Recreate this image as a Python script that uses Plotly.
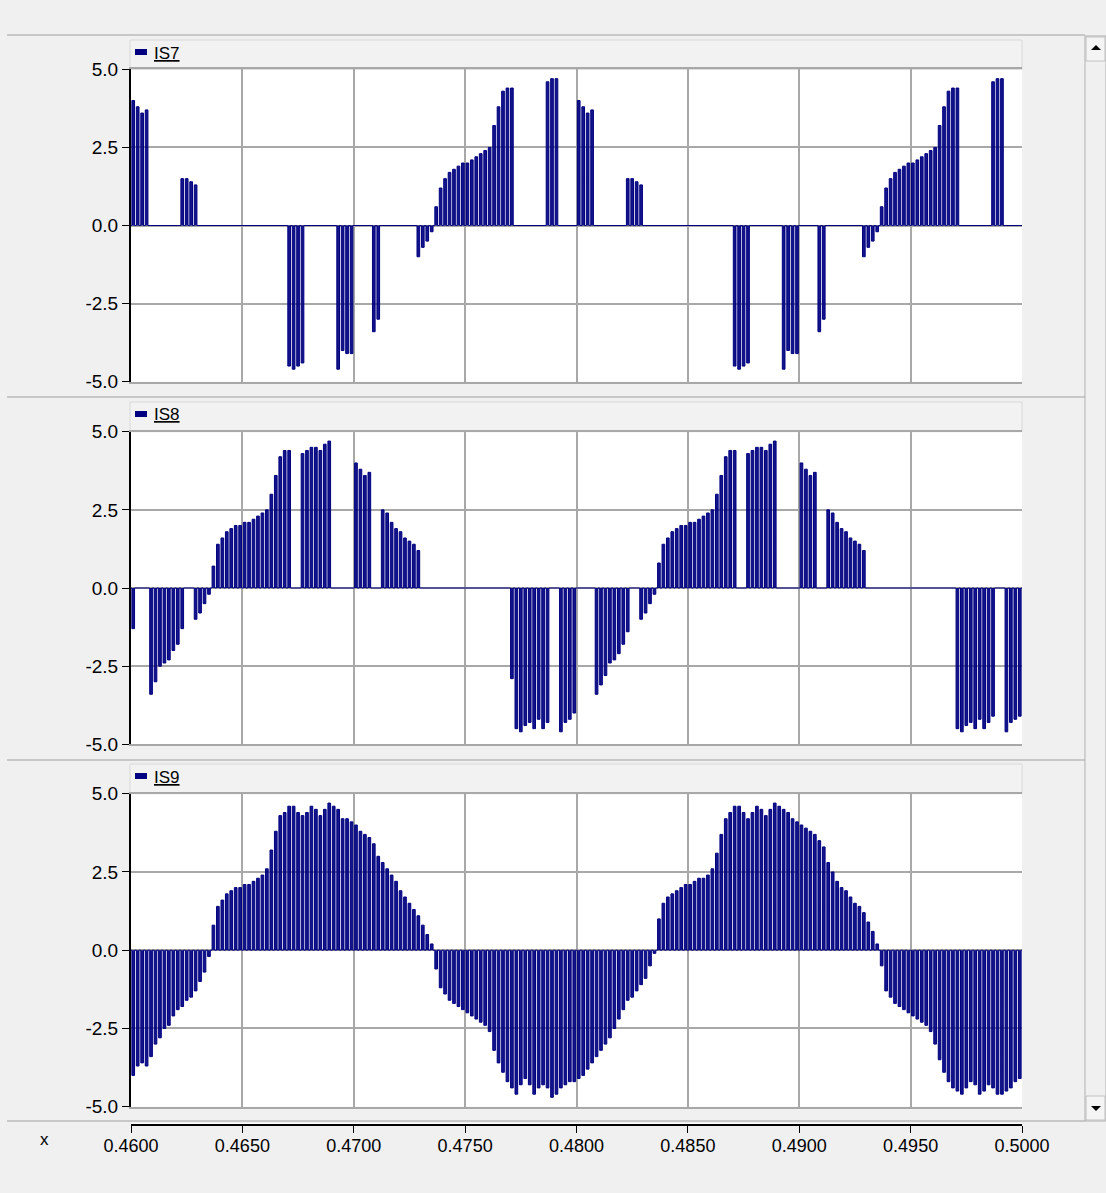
import plotly.graph_objects as go

# ---------------- data ----------------
T_START = 0.4600
T_END = 0.5000
PULSE_PERIOD = 0.0002          # one switching slot per value below
PULSE_WIDTH = 0.00012

x_tick_vals = [0.4600, 0.4650, 0.4700, 0.4750, 0.4800, 0.4850, 0.4900, 0.4950, 0.5000]
x_tick_text = ["0.4600", "0.4650", "0.4700", "0.4750", "0.4800", "0.4850", "0.4900", "0.4950", "0.5000"]
y_tick_vals = [-5.0, -2.5, 0.0, 2.5, 5.0]
y_tick_text = ["-5.0", "-2.5", "0.0", "2.5", "5.0"]

series_names = ["IS7", "IS8", "IS9"]

IS7 = [
    4.0, 3.8, 3.6, 3.7, 0, 0, 0, 0, 0, 0,
    0, 1.5, 1.5, 1.4, 1.3, 0, 0, 0, 0, 0,
    0, 0, 0, 0, 0, 0, 0, 0, 0, 0,
    0, 0, 0, 0, 0, -4.5, -4.6, -4.5, -4.4, 0,
    0, 0, 0, 0, 0, 0, -4.6, -4.0, -4.1, -4.1,
    0, 0, 0, 0, -3.4, -3.0, 0, 0, 0, 0,
    0, 0, 0, 0, -1.0, -0.7, -0.5, -0.2, 0.6, 1.2,
    1.5, 1.7, 1.8, 1.9, 2.0, 2.0, 2.1, 2.2, 2.3, 2.4,
    2.5, 3.2, 3.8, 4.3, 4.4, 4.4, 0, 0, 0, 0,
    0, 0, 0, 4.6, 4.7, 4.7, 0, 0, 0, 0,
    4.0, 3.8, 3.6, 3.7, 0, 0, 0, 0, 0, 0,
    0, 1.5, 1.5, 1.4, 1.3, 0, 0, 0, 0, 0,
    0, 0, 0, 0, 0, 0, 0, 0, 0, 0,
    0, 0, 0, 0, 0, -4.5, -4.6, -4.5, -4.4, 0,
    0, 0, 0, 0, 0, 0, -4.6, -4.0, -4.1, -4.1,
    0, 0, 0, 0, -3.4, -3.0, 0, 0, 0, 0,
    0, 0, 0, 0, -1.0, -0.7, -0.5, -0.2, 0.6, 1.2,
    1.5, 1.7, 1.8, 1.9, 2.0, 2.0, 2.1, 2.2, 2.3, 2.4,
    2.5, 3.2, 3.8, 4.3, 4.4, 4.4, 0, 0, 0, 0,
    0, 0, 0, 4.6, 4.7, 4.7, 0, 0, 0, 0,
]

IS8 = [
    -1.3, 0, 0, 0, -3.4, -3.0, -2.5, -2.4, -2.3, -2.0,
    -1.8, -1.3, 0, 0, -1.0, -0.8, -0.5, -0.2, 0.7, 1.4,
    1.6, 1.8, 1.9, 2.0, 2.0, 2.1, 2.1, 2.2, 2.3, 2.4,
    2.5, 3.0, 3.6, 4.2, 4.4, 4.4, 0, 0, 4.3, 4.4,
    4.5, 4.5, 4.4, 4.6, 4.7, 0, 0, 0, 0, 0,
    4.0, 3.8, 3.6, 3.7, 0, 0, 2.5, 2.4, 2.1, 1.9,
    1.8, 1.6, 1.5, 1.4, 1.2, 0, 0, 0, 0, 0,
    0, 0, 0, 0, 0, 0, 0, 0, 0, 0,
    0, 0, 0, 0, 0, -2.9, -4.5, -4.6, -4.4, -4.3,
    -4.5, -4.2, -4.5, -4.3, 0, 0, -4.6, -4.3, -4.2, -4.0,
    0, 0, 0, 0, -3.4, -3.1, -2.8, -2.4, -2.3, -2.1,
    -1.8, -1.4, 0, 0, -1.0, -0.8, -0.5, -0.2, 0.8, 1.4,
    1.6, 1.8, 1.9, 2.0, 2.0, 2.1, 2.1, 2.2, 2.3, 2.4,
    2.5, 3.0, 3.6, 4.2, 4.4, 4.4, 0, 0, 4.3, 4.4,
    4.5, 4.5, 4.4, 4.6, 4.7, 0, 0, 0, 0, 0,
    4.0, 3.8, 3.6, 3.7, 0, 0, 2.5, 2.4, 2.1, 1.9,
    1.8, 1.6, 1.5, 1.4, 1.2, 0, 0, 0, 0, 0,
    0, 0, 0, 0, 0, 0, 0, 0, 0, 0,
    0, 0, 0, 0, 0, -4.5, -4.6, -4.4, -4.3, -4.5,
    -4.2, -4.5, -4.3, -4.1, 0, 0, -4.6, -4.3, -4.2, -4.1,
]

IS9 = [
    -4.0, -3.7, -3.6, -3.7, -3.4, -3.0, -2.8, -2.5, -2.4, -2.1,
    -1.9, -1.8, -1.6, -1.5, -1.3, -1.0, -0.7, -0.2, 0.8, 1.4,
    1.6, 1.8, 1.9, 2.0, 2.0, 2.1, 2.1, 2.2, 2.3, 2.4,
    2.6, 3.2, 3.8, 4.3, 4.4, 4.6, 4.6, 4.4, 4.3, 4.4,
    4.6, 4.5, 4.3, 4.5, 4.7, 4.6, 4.5, 4.2, 4.2, 4.1,
    4.0, 3.8, 3.7, 3.6, 3.4, 3.0, 2.8, 2.6, 2.4, 2.2,
    1.9, 1.7, 1.5, 1.3, 1.1, 0.8, 0.5, 0.2, -0.6, -1.2,
    -1.4, -1.6, -1.7, -1.8, -1.9, -2.0, -2.1, -2.2, -2.3, -2.4,
    -2.6, -3.2, -3.6, -3.9, -4.2, -4.4, -4.6, -4.3, -4.1, -4.3,
    -4.6, -4.4, -4.3, -4.4, -4.7, -4.6, -4.4, -4.3, -4.2, -4.2,
    -4.1, -4.0, -3.8, -3.6, -3.4, -3.2, -3.0, -2.8, -2.5, -2.2,
    -1.9, -1.6, -1.5, -1.3, -1.1, -0.9, -0.5, -0.1, 1.0, 1.5,
    1.7, 1.8, 1.9, 2.0, 2.1, 2.1, 2.2, 2.3, 2.3, 2.4,
    2.6, 3.1, 3.7, 4.2, 4.4, 4.6, 4.6, 4.4, 4.2, 4.4,
    4.6, 4.5, 4.3, 4.5, 4.7, 4.6, 4.5, 4.4, 4.2, 4.1,
    4.0, 3.9, 3.8, 3.7, 3.5, 3.3, 2.8, 2.5, 2.2, 2.0,
    1.9, 1.7, 1.5, 1.4, 1.2, 0.9, 0.6, 0.2, -0.5, -1.3,
    -1.5, -1.7, -1.8, -1.9, -2.0, -2.1, -2.2, -2.3, -2.4, -2.6,
    -3.0, -3.5, -3.9, -4.2, -4.4, -4.5, -4.6, -4.4, -4.2, -4.3,
    -4.6, -4.5, -4.3, -4.4, -4.6, -4.6, -4.5, -4.4, -4.2, -4.1,
]

panel_values = [IS7, IS8, IS9]

# ---------------- layout helpers ----------------
W, H = 1106, 1193
NAVY = "#000080"
GRID = "#a8a8a8"
BG = "#f0f0f0"
FONT_FAMILY = "Liberation Sans, Arial, sans-serif"


def px(x):
    return x / W


def py(y):
    return 1 - y / H


plot_x0, plot_x1 = 131, 1022
panel_px = [(69.3, 381.7), (431.7, 744.3), (793.7, 1106.7)]
header_px = [(40, 69.3), (402, 431.7), (764, 793.7)]


def pulse_path(values):
    xs, ys = [T_START], [0.0]
    for k, v in enumerate(values):
        if v == 0:
            continue
        t0 = T_START + k * PULSE_PERIOD + (PULSE_PERIOD - PULSE_WIDTH) / 2
        t1 = t0 + PULSE_WIDTH
        xs += [t0, t0, t1, t1]
        ys += [0.0, v, v, 0.0]
    xs.append(T_END)
    ys.append(0.0)
    return xs, ys


fig = go.Figure()

for i, (name, vals) in enumerate(zip(series_names, panel_values)):
    xs, ys = pulse_path(vals)
    sfx = "" if i == 0 else str(i + 1)
    fig.add_trace(go.Scatter(
        x=xs, y=ys, mode="lines", name=name,
        line=dict(color=NAVY, width=1),
        fill="tozeroy", fillcolor="rgba(0,0,128,0.92)",
        xaxis="x" + sfx, yaxis="y" + sfx, showlegend=False,
        hoverinfo="skip",
    ))

# dummy trace for the shared bottom time axis
fig.add_trace(go.Scatter(x=[T_START, T_END], y=[0, 0], mode="lines",
                         line=dict(width=0), xaxis="x4", yaxis="y4",
                         showlegend=False, hoverinfo="skip"))

font = dict(family=FONT_FAMILY, size=19, color="#000000")

layout = dict(
    width=W, height=H,
    margin=dict(l=0, r=0, t=0, b=0, pad=0, autoexpand=False),
    paper_bgcolor=BG, plot_bgcolor="#ffffff",
    font=font,
    showlegend=False,
)

for i in range(3):
    sfx = "" if i == 0 else str(i + 1)
    top, bot = panel_px[i]
    layout["xaxis" + sfx] = dict(
        domain=[px(plot_x0), px(plot_x1)], range=[T_START, T_END],
        anchor="y" + sfx, tickvals=x_tick_vals, showticklabels=False,
        ticks="", showgrid=True, gridcolor=GRID, gridwidth=2,
        showline=True, linecolor=GRID, linewidth=2, mirror=True,
        zeroline=False, fixedrange=True, automargin=False,
    )
    layout["yaxis" + sfx] = dict(
        domain=[py(bot), py(top)], range=[-5.0, 5.0],
        anchor="x" + sfx, tickvals=y_tick_vals, ticktext=y_tick_text,
        ticks="outside", ticklen=7, tickcolor="#000000", tickwidth=1,
        showgrid=True, gridcolor=GRID, gridwidth=2,
        showline=True, linecolor="#000000", linewidth=2,
        zeroline=False, tickfont=font, fixedrange=True, automargin=False,
    )

layout["xaxis4"] = dict(
    domain=[px(plot_x0), px(plot_x1)], range=[T_START, T_END], anchor="y4",
    tickvals=x_tick_vals, ticktext=x_tick_text, ticks="outside", ticklen=7,
    tickcolor="#000000", tickwidth=1, showline=True, linecolor="#000000",
    linewidth=2, showgrid=False, zeroline=False, side="bottom",
    ticklabelstandoff=-3,
    tickfont=dict(family=FONT_FAMILY, size=18, color="#000000"),
    fixedrange=True, automargin=False,
)
layout["yaxis4"] = dict(domain=[py(1124), py(1123)], visible=False, range=[0, 1],
                        anchor="x4", fixedrange=True, automargin=False)

shapes = []
# top strip separator
shapes.append(dict(type="line", xref="paper", yref="paper",
                   x0=px(7), x1=px(1085), y0=py(35), y1=py(35),
                   line=dict(color="#c8c8c8", width=2)))
# panel separators
for yy in (397, 760, 1121):
    shapes.append(dict(type="line", xref="paper", yref="paper",
                       x0=px(7), x1=px(1085), y0=py(yy), y1=py(yy),
                       line=dict(color="#c8c8c8", width=2)))
# header strips (legend bars)
for (ht, hb) in header_px:
    shapes.append(dict(type="rect", xref="paper", yref="paper",
                       x0=px(130), x1=px(1022), y0=py(hb), y1=py(ht),
                       fillcolor="#f2f2f2", line=dict(color="#d8d8d8", width=1),
                       layer="below"))
# legend swatches
for (ht, hb) in header_px:
    shapes.append(dict(type="rect", xref="paper", yref="paper",
                       x0=px(135), x1=px(147), y0=py(ht + 15), y1=py(ht + 9),
                       fillcolor=NAVY, line=dict(width=0)))
# scrollbar
shapes.append(dict(type="rect", xref="paper", yref="paper",
                   x0=px(1085), x1=px(1106), y0=py(1121), y1=py(36),
                   fillcolor="#f0f0f0", line=dict(color="#b0b0b0", width=1)))
shapes.append(dict(type="rect", xref="paper", yref="paper",
                   x0=px(1086), x1=px(1105), y0=py(61), y1=py(37),
                   fillcolor="#f4f4f4", line=dict(color="#c0c0c0", width=1)))
shapes.append(dict(type="rect", xref="paper", yref="paper",
                   x0=px(1086), x1=px(1105), y0=py(1120), y1=py(1096),
                   fillcolor="#f4f4f4", line=dict(color="#c0c0c0", width=1)))
shapes.append(dict(type="path", xref="paper", yref="paper",
                   path=f"M {px(1091)} {py(50)} L {px(1101)} {py(50)} L {px(1096)} {py(45)} Z",
                   fillcolor="#000000", line=dict(width=0)))
shapes.append(dict(type="path", xref="paper", yref="paper",
                   path=f"M {px(1091)} {py(1106)} L {px(1101)} {py(1106)} L {px(1096)} {py(1111)} Z",
                   fillcolor="#000000", line=dict(width=0)))
layout["shapes"] = shapes

annotations = []
for name, (ht, hb) in zip(series_names, header_px):
    annotations.append(dict(
        xref="paper", yref="paper", x=px(152), y=py(ht + 13),
        xanchor="left", yanchor="middle", showarrow=False,
        text=f"<span style='text-decoration:underline'>{name}</span>",
        font=dict(family=FONT_FAMILY, size=17, color="#000000"),
    ))
annotations.append(dict(
    xref="paper", yref="paper", x=px(44), y=py(1139), xanchor="center",
    yanchor="middle", showarrow=False, text="x",
    font=dict(family=FONT_FAMILY, size=17, color="#000000"),
))
layout["annotations"] = annotations

fig.update_layout(**layout)
fig.write_html(
    "out.html",
    config={"displayModeBar": False},
    post_script="document.body.style.margin='0';document.body.style.overflow='hidden';",
)
